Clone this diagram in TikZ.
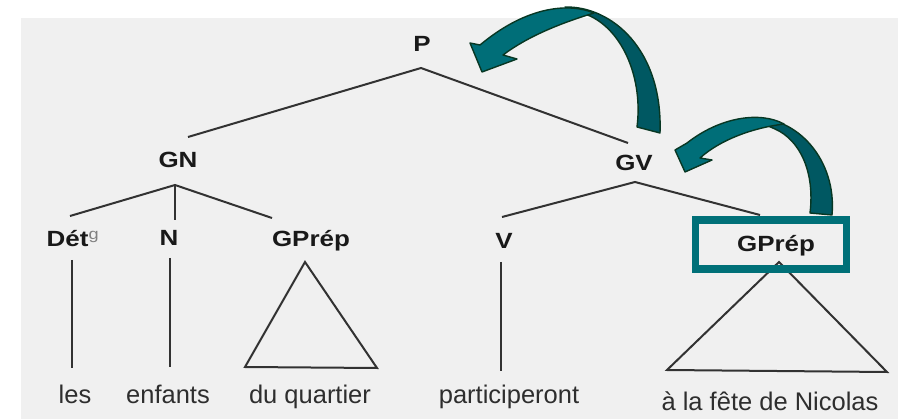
\documentclass[tikz,border=0pt]{standalone}
\usepackage{fontspec}
\setmainfont{Liberation Sans}
\definecolor{bggray}{RGB}{240,240,240}
\definecolor{linegray}{RGB}{50,50,50}
\definecolor{boxteal}{RGB}{0,112,120}
\definecolor{teal1}{RGB}{0,110,120}
\definecolor{teal2}{RGB}{0,88,98}
\definecolor{darkout}{RGB}{8,55,35}
\tikzset{
  lab/.style={font=\fontsize{22}{22}\selectfont\bfseries, text=black!90, inner sep=0pt, xscale=1.18, anchor=base},
  leaf/.style={font=\fontsize{25.5}{25.5}\selectfont, text=black!82, inner sep=0pt, anchor=base},
  tree/.style={draw=linegray, line width=2pt},
  hibox/.style={draw=boxteal, line width=7.5pt},
  curvfront/.style={fill=teal1, draw=darkout, line width=1.4pt, line join=round},
  curvback/.style={fill=teal2, draw=darkout, line width=1.4pt, line join=round}
}
\begin{document}
\begin{tikzpicture}[x=1pt,y=-1pt]
\useasboundingbox (0,0) rectangle (907,419);
\fill[bggray] (21,18) rectangle (898,419);

% labels
\node[lab] (P) at (422,52) {P};
\node[lab] (GN) at (178,168) {GN};
\node[lab] (GV) at (634,171) {GV};
\node[lab] (Det) at (73,247) {Dét\textsuperscript{\normalfont\color{black!50}g}};
\node[lab] (N) at (169,246) {N};
\node[lab] (GP1) at (311,247) {GPrép};
\node[lab] (V) at (504,249) {V};
\node[lab] (GP2) at (776,252) {GPrép};

% leaves
\node[leaf] (les) at (75,403) {les};
\node[leaf] (enf) at (168,403) {enfants};
\node[leaf] (duq) at (310,403) {du quartier};
\node[leaf] (part) at (509,403) {participeront};
\node[leaf] (fete) at (770,410) {à la fête de Nicolas};

% coordinates for branches
\coordinate (Pa) at (421,68);
\coordinate (GNt) at (188,137);
\coordinate (GVt) at (628,143);
\coordinate (GNa) at (175,185);
\coordinate (Dett) at (70,216);
\coordinate (Nt) at (175,220);
\coordinate (GP1t) at (272,218);
\coordinate (GVa) at (635,182);
\coordinate (Vt) at (502,217);
\coordinate (GP2t) at (760,215);
\coordinate (Detb1) at (72,260);
\coordinate (Detb2) at (72,368);
\coordinate (Nb1) at (170,258);
\coordinate (Nb2) at (170,367);
\coordinate (Vb1) at (501,262);
\coordinate (Vb2) at (501,371);

\draw[tree] (GNt) -- (Pa) -- (GVt);
\draw[tree] (Dett) -- (GNa) -- (GP1t);
\draw[tree] (GNa) -- (Nt);
\draw[tree] (Vt) -- (GVa) -- (GP2t);
\draw[tree] (Detb1) -- (Detb2);
\draw[tree] (Nb1) -- (Nb2);
\draw[tree] (Vb1) -- (Vb2);

% triangles
\coordinate (T1a) at (305,262);
\coordinate (T1l) at (245,367);
\coordinate (T1r) at (377,368);
\draw[tree, line join=miter] (T1a) -- (T1l) -- (T1r) -- cycle;
\coordinate (T2a) at (779,262);
\coordinate (T2l) at (667,370);
\coordinate (T2r) at (887,372);
\draw[tree, line join=miter] (T2a) -- (T2l) -- (T2r) -- cycle;

% highlight box
\draw[hibox] (695.5,220) rectangle (846.5,269);

% big curved arrow: back face then front face
\draw[curvback] (565,7) .. controls (612,6) and (663,50) .. (660,133)
  -- (637,127)
  .. controls (643,80) and (624,32) .. (590,16) -- cycle;
\draw[curvfront] (594,13) .. controls (570,3) and (528,5) .. (480,45)
  -- (470,43) -- (482,72) -- (517,59) -- (503,55)
  .. controls (527,37) and (558,24) .. (594,13) -- cycle;

% small curved arrow
\draw[curvback] (750,118) .. controls (797,115) and (837,160) .. (832,215)
  -- (810,213)
  .. controls (815,172) and (800,140) .. (775,129) -- cycle;
\draw[curvfront] (784,124) .. controls (760,111) and (720,117) .. (687,143)
  -- (675,150) -- (685,172) -- (712,160) -- (700,158)
  .. controls (720,140) and (752,128) .. (784,124) -- cycle;
\end{tikzpicture}
\end{document}
